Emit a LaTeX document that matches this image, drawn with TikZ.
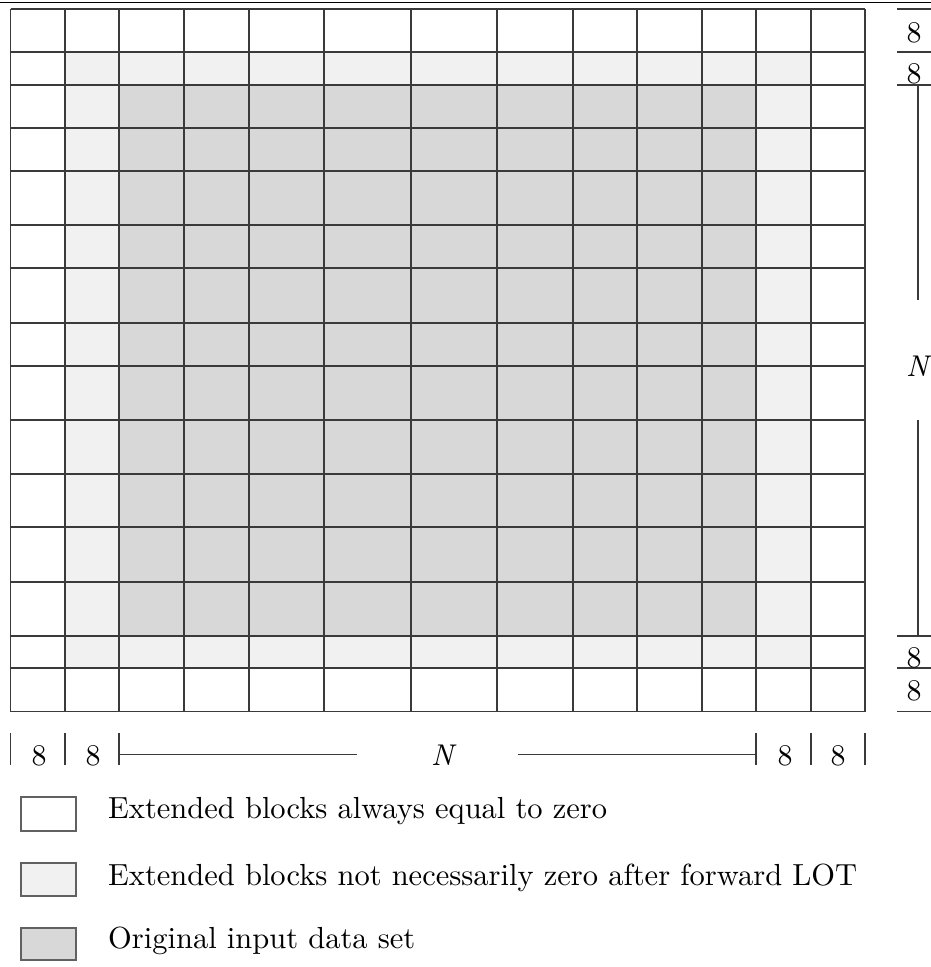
\documentclass[tikz,border=0pt]{standalone}
\usepackage{fontspec}
\setmainfont{lmroman10-regular}[Extension=.otf, ItalicFont=lmroman10-italic]
\definecolor{lightcell}{HTML}{F1F1F1}
\definecolor{darkcell}{HTML}{D8D8D8}
\definecolor{gridline}{HTML}{3A3A3A}
\tikzset{
  gridln/.style={draw=gridline, line width=1.1pt},
  dimln/.style={draw=gridline, line width=1.1pt},
  lbl/.style={inner sep=0pt, anchor=base, font=\fontsize{30}{36}\selectfont},
  legtxt/.style={inner sep=0pt, anchor=base west, font=\fontsize{30.5}{36}\selectfont},
  legbox/.style={draw=gridline!80, line width=1.1pt},
}
\begin{document}
\begin{tikzpicture}[x=1pt,y=-1pt]
\useasboundingbox (0,0) rectangle (931,967);
% top rule
\draw[line width=1.2pt] (0,2.3) -- (931,2.3);
% fills
\fill[lightcell] (65,52) rectangle (811,668);
\fill[darkcell] (119,85) rectangle (756,636);
% grid
\foreach \x in {10.7,65,119,184,249,324,411,497,573,637,702,756,811,865}
  \draw[gridln] (\x,9) -- (\x,711.5);
\foreach \y in {9,52,85,128,171,225,268,323,366,420,474,527,582,636,668,711.5}
  \draw[gridln] (10.7,\y) -- (865,\y);
% right dimensions
\foreach \y in {9,52,85,636,668,711.5}
  \draw[dimln] (897,\y) -- (931,\y);
\node[lbl] (r1) at (914,42.7) {8};
\node[lbl] (r2) at (914,83) {8};
\node[lbl] (r3) at (914,667) {8};
\node[lbl] (r4) at (914,700) {8};
\node[lbl] (rN) at (919,376.7) {\textit{N}};
\coordinate (rt) at (918,85);
\coordinate (rtg) at (918,300);
\coordinate (rbg) at (918,420);
\coordinate (rb) at (918,636);
\draw[dimln] (rt) -- (rtg);
\draw[dimln] (rbg) -- (rb);
% bottom dimensions
\foreach \x in {10.7,65,119,756,811,865}
  \draw[dimln] (\x,733) -- (\x,765);
\node[lbl] (b1) at (39,765) {8};
\node[lbl] (b2) at (93,765) {8};
\node[lbl] (b3) at (785,765) {8};
\node[lbl] (b4) at (838,765) {8};
\node[lbl] (bN) at (444,765.7) {\textit{N}};
\coordinate (bl) at (119,754.5);
\coordinate (blg) at (356.7,754.5);
\coordinate (brg) at (518,754.5);
\coordinate (br) at (756,754.5);
\draw[dimln] (bl) -- (blg);
\draw[dimln] (brg) -- (br);
% legend
\draw[legbox, fill=white] (21,797) rectangle (76,831);
\draw[legbox, fill=lightcell] (21,863) rectangle (76,896);
\draw[legbox, fill=darkcell] (21,928) rectangle (76,960);
\node[legtxt] (l1) at (108,818) {Extended blocks always equal to zero};
\node[legtxt] (l2) at (108,885) {Extended blocks not necessarily zero after forward LOT};
\node[legtxt] (l3) at (108,948) {Original input data set};
\end{tikzpicture}
\end{document}
